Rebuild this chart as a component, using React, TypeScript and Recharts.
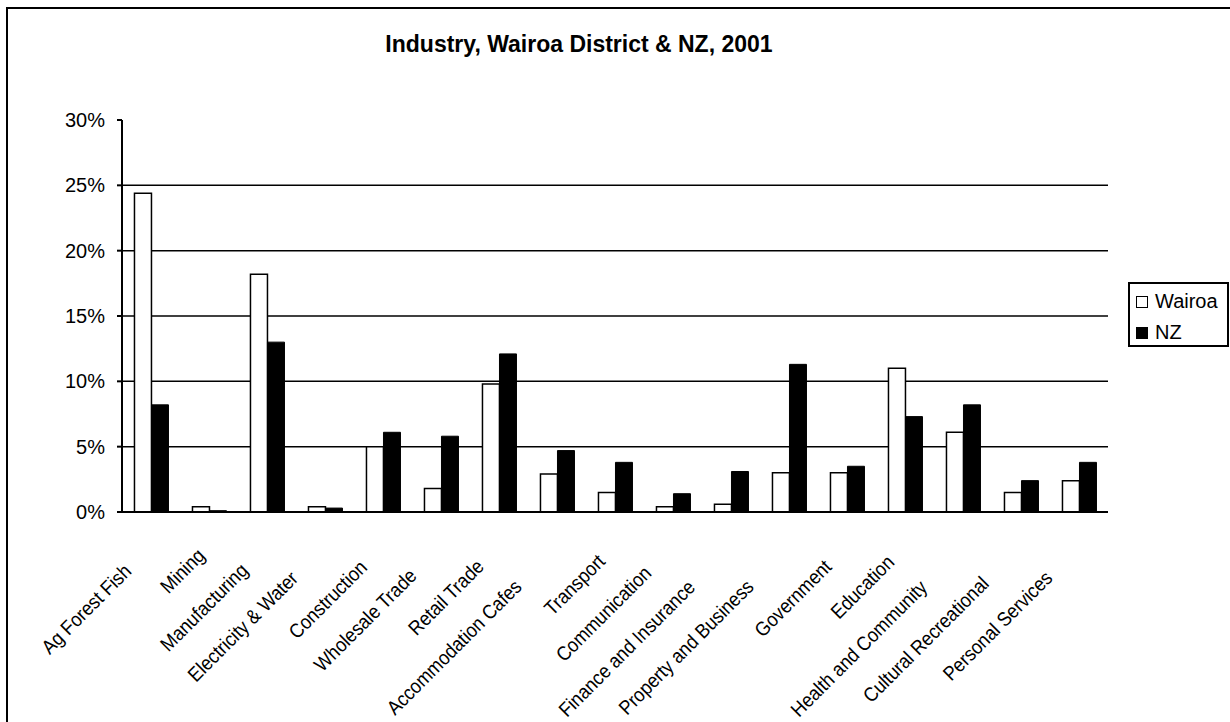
import React from 'react';
import { BarChart, Bar, XAxis, YAxis, CartesianGrid, Legend } from 'recharts';

const categories = [
  'Ag Forest Fish',
  'Mining',
  'Manufacturing',
  'Electricity & Water',
  'Construction',
  'Wholesale Trade',
  'Retail Trade',
  'Accommodation Cafes',
  'Transport',
  'Communication',
  'Finance and Insurance',
  'Property and Business',
  'Government',
  'Education',
  'Health and Community',
  'Cultural Recreational',
  'Personal Services',
];

const wairoa = [24.4, 0.4, 18.2, 0.4, 5.0, 1.8, 9.8, 2.9, 1.5, 0.4, 0.6, 3.0, 3.0, 11.0, 6.1, 1.5, 2.4];
const nz = [8.2, 0.1, 13.0, 0.3, 6.1, 5.8, 12.1, 4.7, 3.8, 1.4, 3.1, 11.3, 3.5, 7.3, 8.2, 2.4, 3.8];

const yTicks = [0, 5, 10, 15, 20, 25, 30];
const gridValues = [5, 10, 15, 20, 25];

const TITLE = 'Industry, Wairoa District & NZ, 2001';
const FONT = '"Liberation Sans", Arial, sans-serif';
const LABEL_SIZE = 20;
const SQUISH = 0.9; // category labels are drawn slightly condensed
// the original lays labels out for a wider font than it draws them in,
// so long labels stop short of the tick
const LAYOUT_RATIO = 1.344;
const GREY = '#8c8c8c';

const chartData = categories.map((name, i) => ({ name, wairoa: wairoa[i], nz: nz[i] }));
// tick marks sit on category boundaries
const edgeTicks = [...categories.map((_, i) => i), categories.length];

let canvas: HTMLCanvasElement | null = null;
function textWidth(text: string) {
  if (!canvas) canvas = document.createElement('canvas');
  const ctx = canvas.getContext('2d')!;
  ctx.font = `${LABEL_SIZE}px "Liberation Sans"`;
  return ctx.measureText(text).width;
}

function CategoryTick(props: any) {
  const { x, y, payload } = props;
  const lead = textWidth(payload.value) * SQUISH * LAYOUT_RATIO;
  return (
    <g transform={`translate(${x + 10},${y + 24}) rotate(-45) translate(${-lead},0) scale(${SQUISH},1)`}>
      <text x={0} y={0} textAnchor="start" fontSize={LABEL_SIZE} fontFamily={FONT} fill="#000">
        {payload.value}
      </text>
    </g>
  );
}

function LegendBox() {
  const rows = [
    { label: 'Wairoa', fill: '#fff' },
    { label: 'NZ', fill: '#000' },
  ];
  return (
    <div style={{ padding: '2px 0 0 6px' }}>
      {rows.map((r) => (
        <div key={r.label} style={{ display: 'flex', alignItems: 'center', height: 31 }}>
          <span
            style={{
              display: 'inline-block',
              width: 10,
              height: 10,
              border: '1px solid #000',
              background: r.fill,
              marginRight: 7,
            }}
          />
          <span style={{ fontFamily: FONT, fontSize: 20, color: '#000' }}>{r.label}</span>
        </div>
      ))}
    </div>
  );
}

export default function App() {
  return (
    <div style={{ position: 'absolute', left: 0, top: 0, width: 1230, height: 722, overflow: 'hidden', background: '#fff' }}>
      <div
        style={{
          position: 'absolute',
          left: 6,
          top: 7,
          width: 1260,
          height: 760,
          border: '2px solid #000',
        }}
      />
      <div
        style={{
          position: 'absolute',
          left: 379,
          top: 33,
          width: 400,
          textAlign: 'center',
          fontFamily: FONT,
          fontWeight: 'bold',
          fontSize: 23,
          lineHeight: '23px',
        }}
      >
        {TITLE}
      </div>
      <div style={{ position: 'absolute', left: 0, top: 0 }}>
        <BarChart
          width={1230}
          height={722}
          data={chartData}
          margin={{ top: 120, right: 21, bottom: 0, left: 0 }}
          barCategoryGap="21.5%"
          barGap={0}
        >
          <CartesianGrid
            xAxisId="cat"
            yAxisId="l"
            vertical={false}
            horizontalValues={gridValues}
            stroke="#000"
            strokeWidth={1.5}
          />
          <XAxis
            xAxisId="edge"
            type="number"
            domain={[0, categories.length]}
            ticks={edgeTicks}
            allowDataOverflow
            height={0}
            axisLine={false}
            tickSize={6}
            tickLine={{ stroke: '#000', strokeWidth: 2 }}
            tickFormatter={() => ''}
          />
          <XAxis
            xAxisId="cat"
            dataKey="name"
            height={210}
            interval={0}
            tickLine={false}
            axisLine={{ stroke: '#000', strokeWidth: 2 }}
            tick={(p: any) => <CategoryTick {...p} />}
          />
          <XAxis
            xAxisId="top"
            dataKey="name"
            orientation="top"
            height={0}
            tick={false}
            tickLine={false}
            axisLine={{ stroke: GREY, strokeWidth: 2 }}
          />
          <YAxis
            yAxisId="l"
            domain={[0, 30]}
            ticks={yTicks}
            width={122}
            tickSize={5}
            tickMargin={12}
            tickFormatter={(v) => `${v}%`}
            tick={{ fontSize: 20, fontFamily: FONT, fill: '#000' }}
            axisLine={{ stroke: '#000', strokeWidth: 2 }}
            tickLine={{ stroke: '#000', strokeWidth: 2 }}
          />
          <YAxis
            yAxisId="r"
            orientation="right"
            domain={[0, 30]}
            width={0}
            tick={false}
            tickLine={false}
            axisLine={{ stroke: GREY, strokeWidth: 2 }}
          />
          <Bar
            xAxisId="cat"
            yAxisId="l"
            dataKey="wairoa"
            name="Wairoa"
            fill="#fff"
            stroke="#000"
            strokeWidth={1.5}
            isAnimationActive={false}
          />
          <Bar
            xAxisId="cat"
            yAxisId="l"
            dataKey="nz"
            name="NZ"
            fill="#000"
            stroke="#000"
            strokeWidth={1}
            isAnimationActive={false}
          />
          <Legend
            layout="vertical"
            align="right"
            verticalAlign="top"
            content={() => <LegendBox />}
            wrapperStyle={{
              left: 1128,
              top: 282,
              right: 'auto',
              bottom: 'auto',
              width: 101,
              height: 65,
              boxSizing: 'border-box',
              border: '2px solid #000',
              background: '#fff',
            }}
          />
        </BarChart>
      </div>
    </div>
  );
}
